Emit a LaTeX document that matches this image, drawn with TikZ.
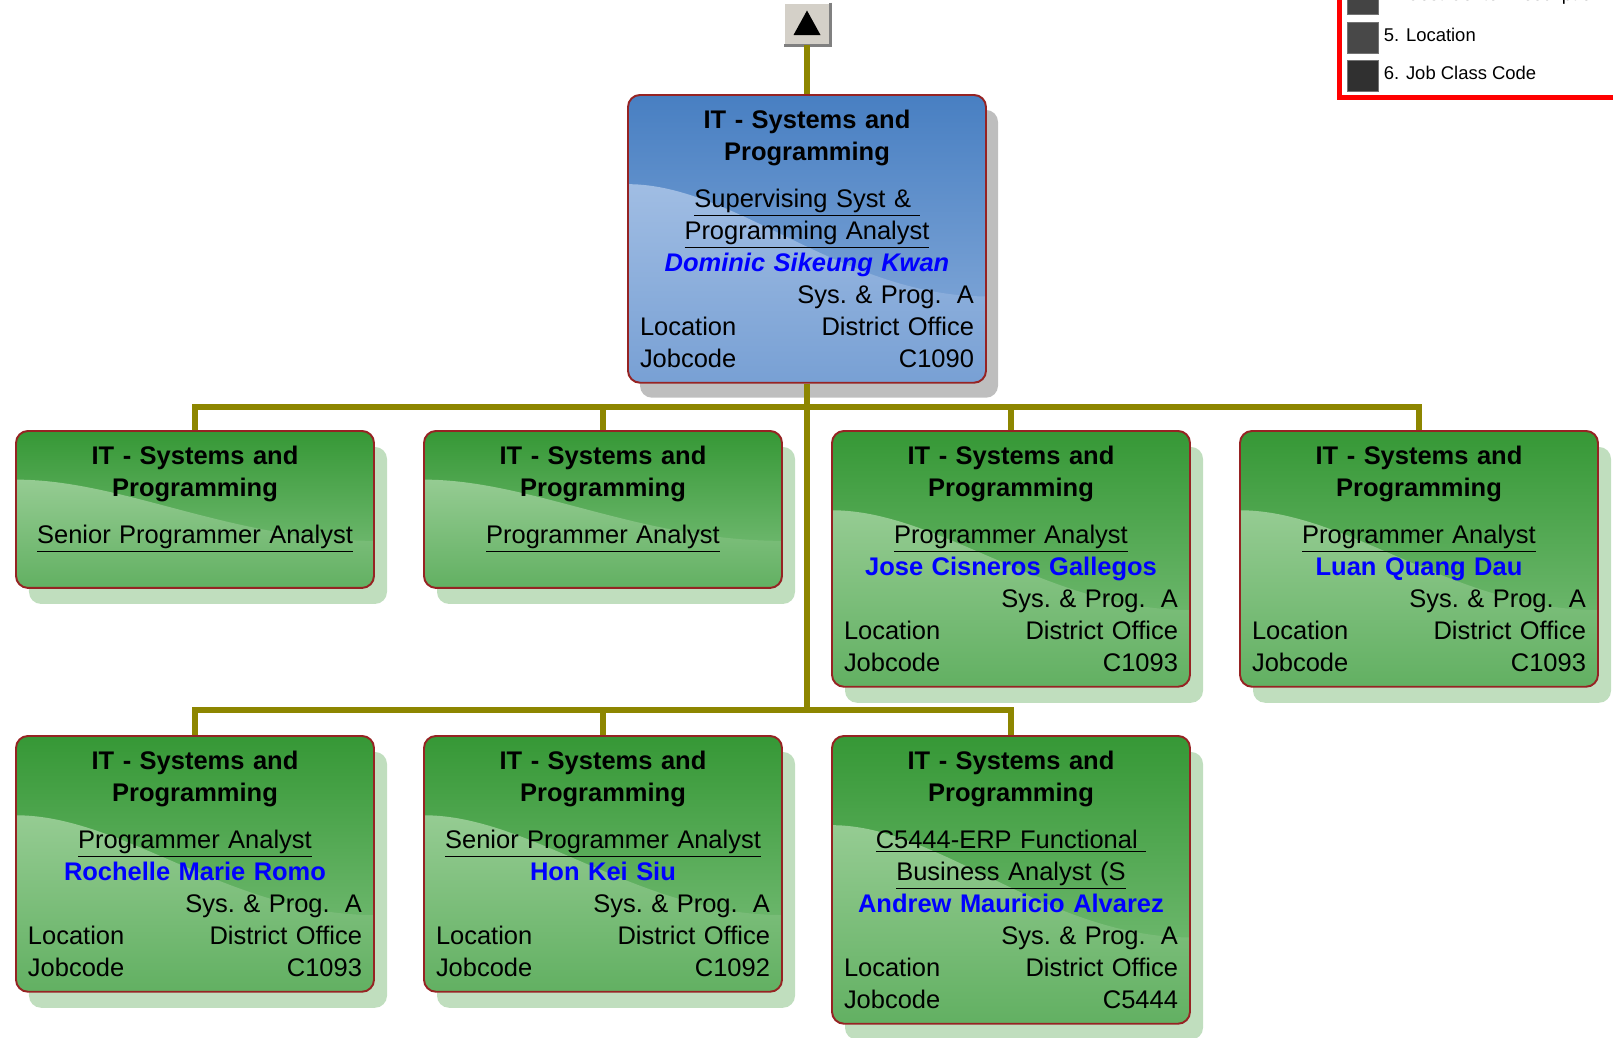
\documentclass[tikz,border=0pt]{standalone}
\usepackage{fontspec}
\setmainfont{Liberation Sans}
\usetikzlibrary{positioning,shadows,calc}

\definecolor{cardedge}{RGB}{150,35,35}
\definecolor{greentop}{RGB}{54,152,54}
\definecolor{greenbot}{RGB}{128,194,128}
\definecolor{greenhi}{RGB}{172,216,168}
\definecolor{greenlo}{RGB}{98,176,98}
\definecolor{greenshade}{RGB}{192,222,190}
\definecolor{bluetop}{RGB}{72,127,194}
\definecolor{bluebot}{RGB}{140,175,220}
\definecolor{bluehi}{RGB}{178,202,234}
\definecolor{bluelo}{RGB}{120,160,212}
\definecolor{grayshade}{RGB}{190,190,190}
\definecolor{btnface}{RGB}{212,208,200}
\definecolor{key4}{RGB}{68,68,68}
\definecolor{key5}{RGB}{72,72,72}
\definecolor{key6}{RGB}{48,48,48}

\tikzset{
  card/.style={draw=cardedge, line width=1.1pt, rounded corners=0.24cm, anchor=north,
    text width=6.68cm, inner xsep=0.24cm, inner ysep=8.3pt, align=center,
    font=\fontsize{14.5}{18.2}\selectfont},
  swoosh/.style 2 args={path picture={
    \shade[top color=#1, bottom color=#2, sharp corners]
      let \p1=(path picture bounding box.north west),
          \p2=(path picture bounding box.south east),
          \n1={\x2-\x1}, \n2={\y1-\y2} in
      (\x1,\y2) -- (\x1,{\y1-0.31*\n2})
      .. controls ({\x1+0.3*\n1},{\y1-0.31*\n2}) and ({\x1+0.6*\n1},{\y1-0.70*\n2})
      .. (\x2,{\y1-0.70*\n2}) -- (\x2,\y2) -- cycle;}},
  green card/.style={card, top color=greentop, bottom color=greenbot,
    drop shadow={shadow xshift=0.26cm, shadow yshift=-0.32cm, fill=greenshade, opacity=1},
    swoosh={greenhi}{greenlo}},
  blue card/.style={card, top color=bluetop, bottom color=bluebot,
    drop shadow={shadow xshift=0.24cm, shadow yshift=-0.3cm, fill=grayshade, opacity=1},
    swoosh={bluehi}{bluelo}},
  wire/.style={draw=olive, line width=3pt},
  button/.style={fill=btnface, minimum width=0.92cm, minimum height=0.84cm, inner sep=0pt},
  legend key/.style={fill=#1, draw=black!55, line width=0.5pt, minimum size=0.62cm, inner sep=0pt},
  legend text/.style={inner sep=0pt, font=\fontsize{10.5}{12}\selectfont, yshift=1.5pt},
}

\begin{document}
\begin{tikzpicture}
  \useasboundingbox (0,0) rectangle (32.26,-20.74);

  % legend, cut by the page edge
  \draw[red, line width=0.1cm, fill=white] (26.79,0.5) rectangle (33,-1.95);
  \node[legend key=key4] (k4) at (27.25,0.03) {};
  \node[legend key=key5] (k5) at (27.25,-0.75) {};
  \node[legend key=key6] (k6) at (27.25,-1.51) {};
  \node[legend text, right=0.1cm of k4] (t4) {4. Cost Center Description};
  \node[legend text, right=0.1cm of k5] (t5) {5. Location};
  \node[legend text, right=0.1cm of k6] (t6) {6. Job Class Code};

  % up button
  \node[button] (up) at (16.14,-0.48) {};
  \draw[white, line width=1pt] (up.south west) -- (up.north west) -- (up.north east);
  \draw[gray, line width=1.5pt] (up.north east) -- (up.south east) -- (up.south west);
  \fill ([shift={(0,0.27)}]up.center) -- ([shift={(-0.27,-0.22)}]up.center)
    -- ([shift={(0.27,-0.22)}]up.center) -- cycle;

  \node[blue card] (head) at (16.14,-1.88) {\textbf{IT - Systems and}\\ \textbf{Programming}\\[9.1pt]
    \underline{Supervising Syst \&\ }\\ \underline{Programming Analyst}\\
    \textcolor{blue}{\textbf{\textit{Dominic Sikeung Kwan}}}\\
    \mbox{}\hfill Sys.\ \& Prog.\hspace{0.6em}A\\
    Location\hfill District Office\\ Jobcode\hfill C1090};

  \node[green card] (c1) at (3.90,-8.60) {\textbf{IT - Systems and}\\ \textbf{Programming}\\[9.1pt]
    \underline{Senior Programmer Analyst}\\[-1.5pt]\null};
  \node[green card] (c2) at (12.06,-8.60) {\textbf{IT - Systems and}\\ \textbf{Programming}\\[9.1pt]
    \underline{Programmer Analyst}\\[-1.5pt]\null};
  \node[green card] (c3) at (20.22,-8.60) {\textbf{IT - Systems and}\\ \textbf{Programming}\\[9.1pt]
    \underline{Programmer Analyst}\\
    \textcolor{blue}{\textbf{Jose Cisneros Gallegos}}\\
    \mbox{}\hfill Sys.\ \& Prog.\hspace{0.6em}A\\
    Location\hfill District Office\\ Jobcode\hfill C1093};
  \node[green card] (c4) at (28.38,-8.60) {\textbf{IT - Systems and}\\ \textbf{Programming}\\[9.1pt]
    \underline{Programmer Analyst}\\
    \textcolor{blue}{\textbf{Luan Quang Dau}}\\
    \mbox{}\hfill Sys.\ \& Prog.\hspace{0.6em}A\\
    Location\hfill District Office\\ Jobcode\hfill C1093};

  \node[green card] (d1) at (3.90,-14.70) {\textbf{IT - Systems and}\\ \textbf{Programming}\\[9.1pt]
    \underline{Programmer Analyst}\\
    \textcolor{blue}{\textbf{Rochelle Marie Romo}}\\
    \mbox{}\hfill Sys.\ \& Prog.\hspace{0.6em}A\\
    Location\hfill District Office\\ Jobcode\hfill C1093};
  \node[green card] (d2) at (12.06,-14.70) {\textbf{IT - Systems and}\\ \textbf{Programming}\\[9.1pt]
    \underline{Senior Programmer Analyst}\\
    \textcolor{blue}{\textbf{Hon Kei Siu}}\\
    \mbox{}\hfill Sys.\ \& Prog.\hspace{0.6em}A\\
    Location\hfill District Office\\ Jobcode\hfill C1092};
  \node[green card] (d3) at (20.22,-14.70) {\textbf{IT - Systems and}\\ \textbf{Programming}\\[9.1pt]
    \underline{C5444-ERP Functional\ }\\ \underline{Business Analyst (S}\\
    \textcolor{blue}{\textbf{Andrew Mauricio Alvarez}}\\
    \mbox{}\hfill Sys.\ \& Prog.\hspace{0.6em}A\\
    Location\hfill District Office\\ Jobcode\hfill C5444};

  % connectors
  \coordinate (bus1) at (16.14,-8.14);
  \coordinate (bus2) at (16.14,-14.20);
  \draw[wire] (up.south) -- (head.north);
  \draw[wire] (head.south) -- (bus2);
  \draw[wire] (c1.north) |- (bus1) -| (c4.north);
  \draw[wire] (c2.north) -- (c2.north |- bus1);
  \draw[wire] (c3.north) -- (c3.north |- bus1);
  \draw[wire] (d1.north) |- (bus2) -| (d3.north);
  \draw[wire] (d2.north) -- (d2.north |- bus2);
\end{tikzpicture}
\end{document}
